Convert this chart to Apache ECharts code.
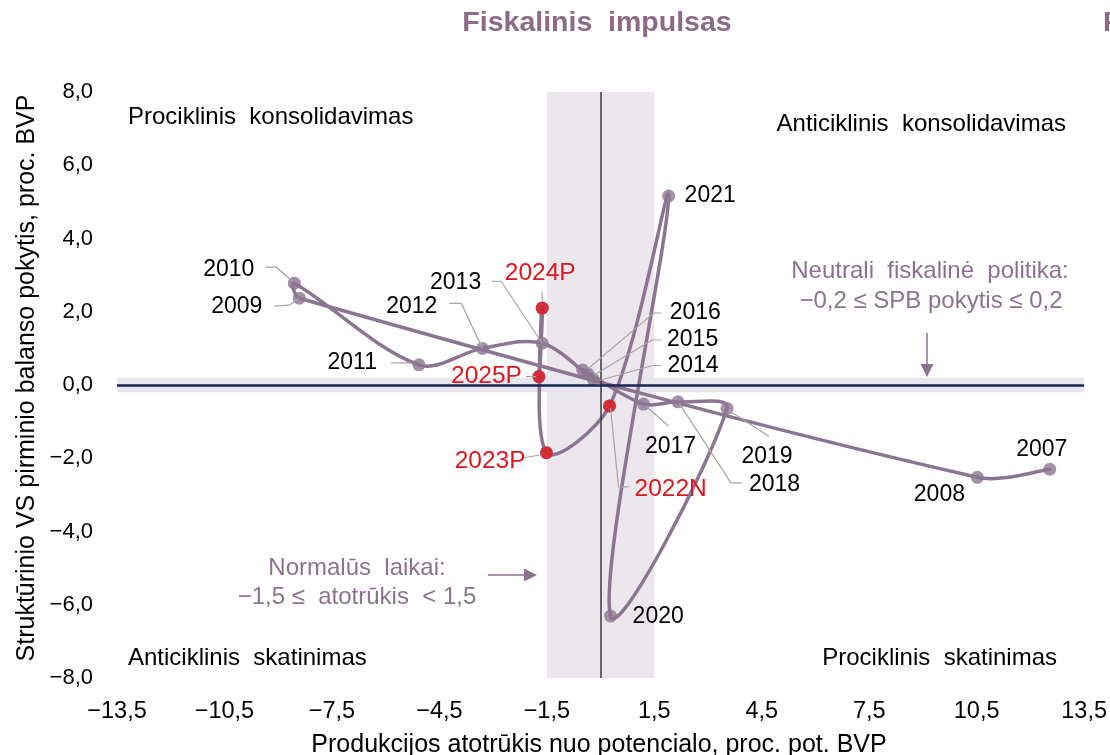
<!DOCTYPE html>
<html><head><meta charset="utf-8">
<script src="https://cdn.jsdelivr.net/npm/echarts@6/dist/echarts.min.js"></script>
<style>html,body{margin:0;padding:0;background:#fff}#c{width:1110px;height:755px}</style>
</head><body><div id="c"></div>
<script>
// ---- data ----
const years = ['2007','2008','2009','2010','2011','2012','2013','2014','2015','2016','2017','2018','2019','2020','2021','2022N','2023P','2024P','2025P'];
const outputGap = [12.54, 10.52, -8.41, -8.55, -5.07, -3.30, -1.63, -0.20, -0.35, -0.50, 1.20, 2.16, 3.53, 0.28, 1.90, 0.25, -1.51, -1.63, -1.72];
const spbChange = [-2.30, -2.52, 2.37, 2.78, 0.55, 1.00, 1.14, 0.15, 0.30, 0.41, -0.52, -0.46, -0.64, -6.31, 5.16, -0.57, -1.85, 2.10, 0.23];
const forecastYears = ['2022N','2023P','2024P','2025P'];
const xTicks = [-13.5, -10.5, -7.5, -4.5, -1.5, 1.5, 4.5, 7.5, 10.5, 13.5];
const yTicks = [-8, -6, -4, -2, 0, 2, 4, 6, 8];
const normalBand = [-1.5, 1.5];
const neutralBand = [-0.2, 0.2];

// ---- styles / layout ----
const FONT = "'Liberation Sans', Arial, sans-serif";
const PURPLE = '#8c7592';
const TXT_PURPLE = '#8b7390';
const RED = '#e0161f';
const SMOOTH = 1 / 3;
const labelPlacement = {
 '2007': {dx:-8, dy:-20, align:'center'},
 '2008': {dx:-38, dy:17, align:'center'},
 '2009': {dx:-37, dy:8, align:'right', leader:[[-25,8],[-10,7],[0,0]]},
 '2010': {dx:-40, dy:-14, align:'right', leader:[[-29,-16],[-18,-16],[-3,-3]]},
 '2011': {dx:-42, dy:-2, align:'right', leader:[[-28,-2],[-7,-2]]},
 '2012': {dx:-45, dy:-42, align:'right', leader:[[-33,-45],[-21,-45],[0,0]]},
 '2013': {dx:-61, dy:-61, align:'right', leader:[[-51,-62],[-41,-62],[0,0]]},
 '2014': {dx:74, dy:-14, align:'left', leader:[[68,-14],[59,-14],[6,1]]},
 '2015': {dx:79, dy:-34, align:'left', leader:[[73,-34],[64,-34],[6,1]]},
 '2016': {dx:87, dy:-57, align:'left', leader:[[79,-57],[71,-57],[5,-1]]},
 '2017': {dx:27, dy:43, align:'center', leader:[[25,22],[2,2]]},
 '2018': {dx:71, dy:83, align:'left', leader:[[64,81],[53,81],[1,1]]},
 '2019': {dx:40, dy:48, align:'center', leader:[[42,28],[2,2]]},
 '2020': {dx:22, dy:1, align:'left'},
 '2021': {dx:16, dy:0, align:'left'},
 '2022N': {dx:25, dy:83, align:'left', leader:[[1,2],[9,81],[19,81]]},
 '2023P': {dx:-21, dy:8, align:'right', leader:[[-23,5],[-5,2]]},
 '2024P': {dx:-2, dy:-35, align:'center', leader:[[0,-16],[0,-6]]},
 '2025P': {dx:-17, dy:0, align:'right', leader:[[-13,0],[-3,0]]}
};

const fmt = v => Number(v).toFixed(1).replace('.', ',').replace('-', '\u2212');
const points = years.map((y, i) => [outputGap[i], spbChange[i]]);
const forecastPoints = years.map((y, i) => forecastYears.includes(y) ? [outputGap[i], spbChange[i]] : null).filter(p => p);
const N = points.length;

// Bezier control points (length-weighted Catmull-Rom) computed in pixel space
function ctrl(pts, k) {
  const p = pts[k];
  if (k === 0) {
    const nx = pts[1];
    return {out: [p[0] + (nx[0] - p[0]) * SMOOTH / 2, p[1] + (nx[1] - p[1]) * SMOOTH / 2]};
  }
  if (k === pts.length - 1) {
    const pr = pts[k - 1];
    return {in: [p[0] - (p[0] - pr[0]) * SMOOTH / 2, p[1] - (p[1] - pr[1]) * SMOOTH / 2]};
  }
  const pr = pts[k - 1], nx = pts[k + 1];
  const tx = nx[0] - pr[0], ty = nx[1] - pr[1];
  const dp = Math.hypot(p[0] - pr[0], p[1] - pr[1]);
  const dn = Math.hypot(nx[0] - p[0], nx[1] - p[1]);
  const s = dp + dn || 1;
  return {
    in: [p[0] - tx * SMOOTH * dp / s, p[1] - ty * SMOOTH * dp / s],
    out: [p[0] + tx * SMOOTH * dn / s, p[1] + ty * SMOOTH * dn / s]
  };
}

function renderSegment(params, api) {
  const i = params.dataIndex;
  if (i >= N - 1) return null;
  const pts = points.map(pt => api.coord(pt));
  const a = ctrl(pts, i), b = ctrl(pts, i + 1);
  return {
    type: 'bezierCurve',
    shape: {x1: pts[i][0], y1: pts[i][1], x2: pts[i + 1][0], y2: pts[i + 1][1],
            cpx1: a.out[0], cpy1: a.out[1], cpx2: b.in[0], cpy2: b.in[1]},
    style: {stroke: PURPLE, lineWidth: 3.5, fill: null, lineCap: 'round'}
  };
}

const chart = echarts.init(document.getElementById('c'), null, {renderer: 'canvas'});
chart.setOption({
  animation: false,
  backgroundColor: '#fff',
  grid: {left: 117, right: 24, top: 92, bottom: 77},
  xAxis: {
    type: 'value', min: xTicks[0], max: xTicks[xTicks.length - 1],
    axisLine: {show: false}, axisTick: {show: false}, splitLine: {show: false},
    axisLabel: {customValues: xTicks, formatter: fmt, fontFamily: FONT, fontSize: 23.5, color: '#000', margin: 21, lineHeight: 26, showMinLabel: true, showMaxLabel: true}
  },
  yAxis: {
    type: 'value', min: yTicks[0], max: yTicks[yTicks.length - 1], interval: 2,
    axisLine: {show: false}, axisTick: {show: false}, splitLine: {show: false},
    axisLabel: {formatter: fmt, fontFamily: FONT, fontSize: 22, color: '#000', margin: 24, showMinLabel: true, showMaxLabel: true}
  },
  series: [
    {
      type: 'line', data: points, symbol: 'none', lineStyle: {opacity: 0}, silent: true, z: 1,
      markArea: {
        silent: true,
        data: [
          [{xAxis: normalBand[0], yAxis: yTicks[0], itemStyle: {color: '#ece7ed'}}, {xAxis: normalBand[1], yAxis: yTicks[yTicks.length - 1]}],
          [{xAxis: xTicks[0], yAxis: neutralBand[0], itemStyle: {color: '#e7e5ed'}}, {xAxis: xTicks[xTicks.length - 1], yAxis: neutralBand[1]}]
        ]
      },
      markLine: {
        silent: true, symbol: ['none', 'none'], label: {show: false},
        data: [
          {xAxis: 0, lineStyle: {color: '#3a3a3a', width: 1.5, type: 'solid'}},
          {yAxis: 0, lineStyle: {color: '#1b2656', width: 2.5, type: 'solid'}}
        ]
      }
    },
    {
      type: 'custom', data: points, encode: {x: 0, y: 1}, z: 3, silent: true,
      renderItem: renderSegment
    },
    {
      type: 'scatter', data: points, z: 4, symbolSize: 13,
      itemStyle: {color: PURPLE}
    },
    {
      type: 'scatter', data: forecastPoints, z: 5, symbolSize: 13,
      itemStyle: {color: RED}
    }
  ]
});

const g = [];
function txt(text, x, y, opts) {
  g.push({type: 'text', x: x, y: y, z: 100, silent: true,
    style: Object.assign({text: text, font: '24px ' + FONT, fill: '#000', align: 'left', verticalAlign: 'middle'}, opts || {})});
}
years.forEach((yr, i) => {
  const p = chart.convertToPixel({gridIndex: 0}, [outputGap[i], spbChange[i]]);
  const L = labelPlacement[yr];
  const isF = forecastYears.includes(yr);
  txt(yr, p[0] + L.dx, p[1] + L.dy, {font: (isF ? '24.5px ' : '23px ') + FONT, fill: isF ? RED : '#000', align: L.align});
  if (L.leader) {
    g.push({type: 'polyline', z: 90, silent: true,
      shape: {points: L.leader.map(d => [p[0] + d[0], p[1] + d[1]])},
      style: {stroke: '#a6a6a6', lineWidth: 1.2, fill: null}});
  }
});

// title and axis titles
txt('Fiskalinis  impulsas', 597, 23, {font: 'bold 28.5px ' + FONT, fill: '#8c6a88', align: 'center'});
txt('F', 1103, 23, {font: 'bold 28.5px ' + FONT, fill: '#8c6a88', align: 'left'});
txt('Produkcijos atotrūkis nuo potencialo, proc. pot. BVP', 599, 745, {font: '25px ' + FONT, align: 'center'});
g.push({type: 'text', x: 27, y: 378, rotation: Math.PI / 2, z: 100, silent: true,
  style: {text: 'Struktūrinio VS pirminio balanso pokytis, proc. BVP', font: '25px ' + FONT, fill: '#000', align: 'center', verticalAlign: 'middle'}});

// quadrant labels
txt('Prociklinis  konsolidavimas', 128, 117);
txt('Anticiklinis  konsolidavimas', 1066, 124, {align: 'right'});
txt('Anticiklinis  skatinimas', 128, 658);
txt('Prociklinis  skatinimas', 1057, 658, {align: 'right'});

// annotations
txt('Neutrali  fiskalinė  politika:', 930, 271, {align: 'center', fill: TXT_PURPLE});
txt('\u22120,2 \u2264 SPB pokytis \u2264 0,2', 931, 301, {align: 'center', fill: TXT_PURPLE});
g.push({type: 'line', z: 90, silent: true, shape: {x1: 927, y1: 333, x2: 927, y2: 365}, style: {stroke: TXT_PURPLE, lineWidth: 1.5}});
g.push({type: 'polygon', z: 90, silent: true, shape: {points: [[920.5, 364], [933.5, 364], [927, 377]]}, style: {fill: TXT_PURPLE}});

txt('Normalūs  laikai:', 357, 568, {align: 'center', fill: TXT_PURPLE});
txt('\u22121,5 \u2264  atotrūkis  < 1,5', 357, 597, {align: 'center', fill: TXT_PURPLE});
g.push({type: 'line', z: 90, silent: true, shape: {x1: 488, y1: 575, x2: 525, y2: 575}, style: {stroke: TXT_PURPLE, lineWidth: 1.5}});
g.push({type: 'polygon', z: 90, silent: true, shape: {points: [[524, 568.5], [524, 581.5], [537, 575]]}, style: {fill: TXT_PURPLE}});

chart.setOption({graphic: g});
</script>
</body></html>
